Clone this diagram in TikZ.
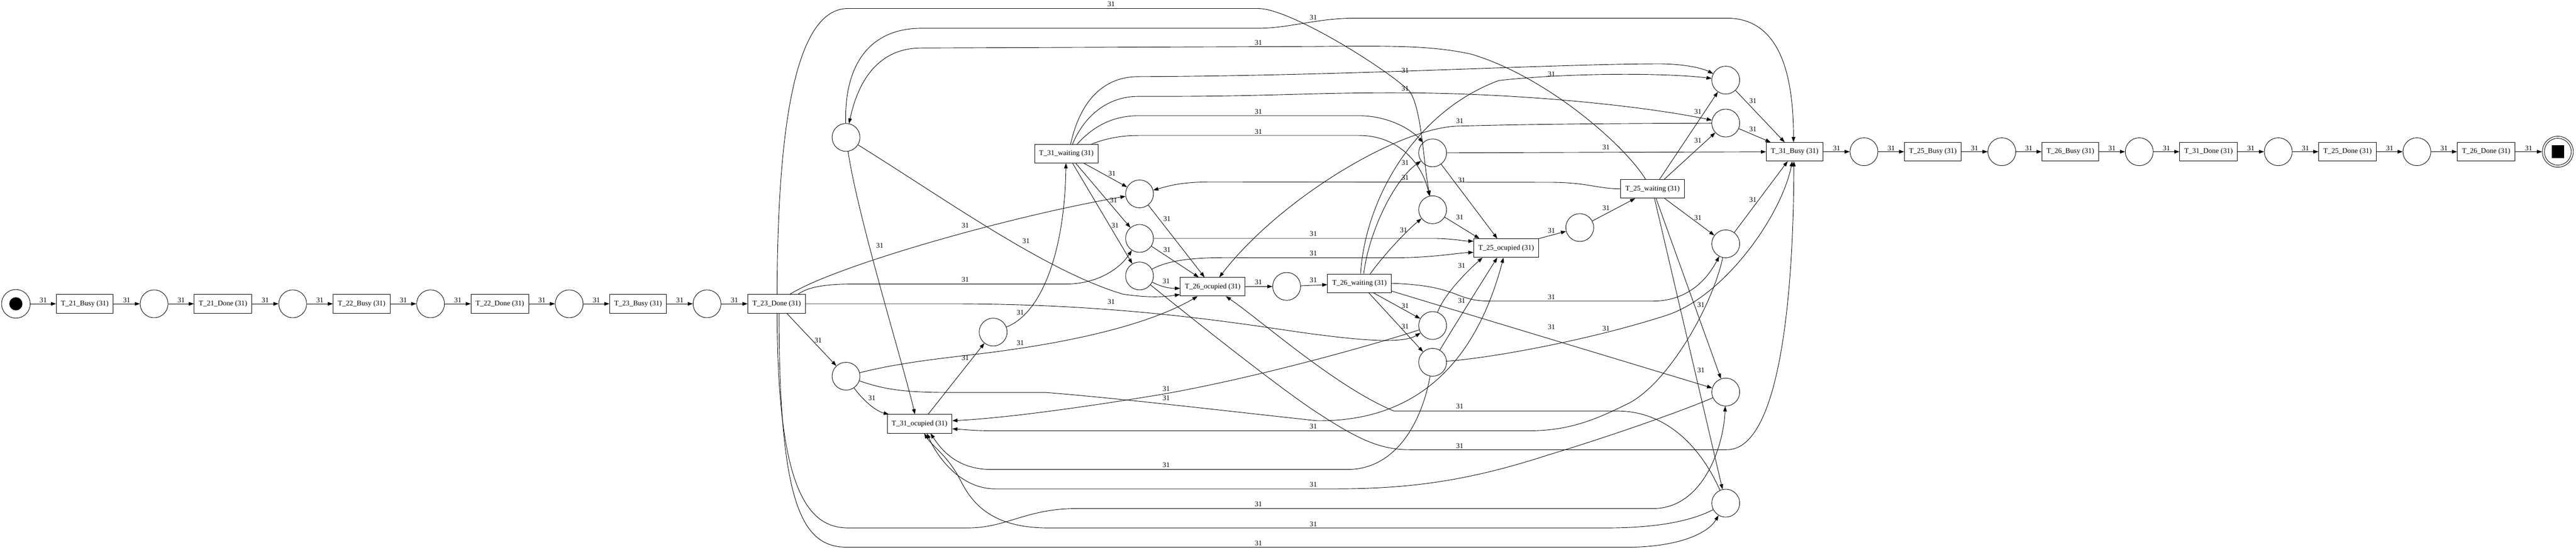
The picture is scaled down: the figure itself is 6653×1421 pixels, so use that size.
\documentclass[tikz,border=0pt]{standalone}
\usepackage{fontspec}
\setmainfont{Liberation Serif}
\usetikzlibrary{arrows.meta,calc}
\newcommand{\fsz}{\fontsize{14pt}{16pt}\selectfont}
\begin{document}
\begin{tikzpicture}[x=0.75pt,y=-0.75pt,
  place/.style={circle,draw,line width=0.9pt,minimum size=54pt,inner sep=0pt},
  trans/.style={rectangle,draw,line width=0.9pt,minimum height=36pt,inner xsep=9pt,inner ysep=0pt,font=\fsz},
  lbl/.style={font=\fsz,inner sep=0pt},
  arr/.style={-{Triangle[length=10pt,width=7pt]},line width=0.9pt}]
\useasboundingbox (0,0) rectangle (6653,1421);
\fill[white] (0,0) rectangle (6653,1421);

% ---------- main chain (left) ----------
\node[place,minimum size=55.5pt] (start) at (41,785) {};
\fill (start.center) circle[radius=12.75pt];
\node[trans] (t21b) at (219,785) {T\_21\_Busy (31)};
\node[place] (p1) at (398,785) {};
\node[trans] (t21d) at (576,785) {T\_21\_Done (31)};
\node[place] (p2) at (756,785) {};
\node[trans] (t22b) at (934,785) {T\_22\_Busy (31)};
\node[place] (p3) at (1112,785) {};
\node[trans] (t22d) at (1291,785) {T\_22\_Done (31)};
\node[place] (p4) at (1470,785) {};
\node[trans] (t23b) at (1648,785) {T\_23\_Busy (31)};
\node[place] (p5) at (1826,785) {};
\node[trans] (t23d) at (2006,785) {T\_23\_Done (31)};

% ---------- middle ----------
\node[place] (pA) at (2185,355) {};
\node[place] (pB) at (2185,972) {};
\node[trans] (t31o) at (2375,1095) {T\_31\_ocupied (31)};
\node[place] (pC) at (2565,858) {};
\node[trans] (t31w) at (2754,397) {T\_31\_waiting (31)};
\node[place] (pD) at (2943,501) {};
\node[place] (pE) at (2943,616) {};
\node[place] (pF) at (2943,713) {};
\node[trans] (t26o) at (3132,741) {T\_26\_ocupied (31)};
\node[place] (pG) at (3323,740) {};
\node[trans] (t26w) at (3511,732) {T\_26\_waiting (31)};
\node[place] (pH) at (3700,395) {};
\node[place] (pI) at (3700,542) {};
\node[place] (pJ) at (3700,841) {};
\node[place] (pK) at (3700,936) {};
\node[trans] (t25o) at (3890,641) {T\_25\_ocupied (31)};
\node[place] (pL) at (4080,588) {};
\node[trans] (t25w) at (4268,488) {T\_25\_waiting (31)};
\node[place] (pM) at (4457,207) {};
\node[place] (pN) at (4457,318) {};
\node[place] (pO) at (4457,630) {};
\node[place] (pP) at (4457,1013) {};
\node[place] (pQ) at (4457,1300) {};

% ---------- upper chain (right) ----------
\node[trans] (t31b) at (4635,392) {T\_31\_Busy (31)};
\node[place] (p6) at (4814,392) {};
\node[trans] (t25b) at (4992,392) {T\_25\_Busy (31)};
\node[place] (p7) at (5170,392) {};
\node[trans] (t26b) at (5347,392) {T\_26\_Busy (31)};
\node[place] (p8) at (5525,392) {};
\node[trans] (t31d) at (5704,392) {T\_31\_Done (31)};
\node[place] (p9) at (5884,392) {};
\node[trans] (t25d) at (6063,392) {T\_25\_Done (31)};
\node[place] (p10) at (6242,392) {};
\node[trans] (t26d) at (6421,392) {T\_26\_Done (31)};
\node[circle,draw,line width=0.9pt,minimum size=60pt,inner sep=0pt] (end) at (6606,392) {};
\draw[line width=0.9pt] (end.center) circle[radius=26pt];
\fill ($(end.center)+(-16,-16.5)$) rectangle ($(end.center)+(16,16.5)$);

% ---------- chain edges ----------
\draw[arr] (start) -- node[lbl,above=2pt] (c01) {31} (t21b);
\draw[arr] (t21b) -- node[lbl,above=2pt] (c02) {31} (p1);
\draw[arr] (p1) -- node[lbl,above=2pt] (c03) {31} (t21d);
\draw[arr] (t21d) -- node[lbl,above=2pt] (c04) {31} (p2);
\draw[arr] (p2) -- node[lbl,above=2pt] (c05) {31} (t22b);
\draw[arr] (t22b) -- node[lbl,above=2pt] (c06) {31} (p3);
\draw[arr] (p3) -- node[lbl,above=2pt] (c07) {31} (t22d);
\draw[arr] (t22d) -- node[lbl,above=2pt] (c08) {31} (p4);
\draw[arr] (p4) -- node[lbl,above=2pt] (c09) {31} (t23b);
\draw[arr] (t23b) -- node[lbl,above=2pt] (c10) {31} (p5);
\draw[arr] (p5) -- node[lbl,above=2pt] (c11) {31} (t23d);
\draw[arr] (t31b) -- node[lbl,above=2pt] (c12) {31} (p6);
\draw[arr] (p6) -- node[lbl,above=2pt] (c13) {31} (t25b);
\draw[arr] (t25b) -- node[lbl,above=2pt] (c14) {31} (p7);
\draw[arr] (p7) -- node[lbl,above=2pt] (c15) {31} (t26b);
\draw[arr] (t26b) -- node[lbl,above=2pt] (c16) {31} (p8);
\draw[arr] (p8) -- node[lbl,above=2pt] (c17) {31} (t31d);
\draw[arr] (t31d) -- node[lbl,above=2pt] (c18) {31} (p9);
\draw[arr] (p9) -- node[lbl,above=2pt] (c19) {31} (t25d);
\draw[arr] (t25d) -- node[lbl,above=2pt] (c20) {31} (p10);
\draw[arr] (p10) -- node[lbl,above=2pt] (c21) {31} (t26d);
\draw[arr] (t26d) -- node[lbl,above=2pt] (c22) {31} (end);

% ---------- T_23_Done outputs ----------
\draw[arr] ($(t23d.north)+(1,0)$) .. controls (2008,300) and (2060,22) .. (2190,22) -- (3250,22) .. controls (3330,22) and (3570,170) .. (3640,235) .. controls (3672,280) and (3676,420) .. (pI) node[lbl] (l01) at (2870,11) {31};
\draw[arr] ($(t23d.north)+(34,0)$) .. controls (2150,690) and (2600,560) .. (pD) node[lbl] (l02) at (2493,583) {31};
\draw[arr] ($(t23d.north)+(55,0)$) .. controls (2085,742) and (2130,734) .. (2200,734) -- (2750,734) .. controls (2840,734) and (2895,690) .. (pE) node[lbl] (l03) at (2493,723) {31};
\draw[arr] (t23d.east) -- (2450,785) .. controls (2750,785) and (3000,805) .. (3300,850) .. controls (3500,880) and (3620,890) .. (pJ) node[lbl] (l04) at (2870,780) {31};
\draw[arr] ($(t23d.south)+(26,0)$) -- (pB) node[lbl] (l05) at (2113,879) {31};
\draw[arr] ($(t23d.south)+(1,0)$) .. controls (2008,1250) and (2080,1364) .. (2190,1364) -- (2500,1364) .. controls (2600,1364) and (2650,1314) .. (2780,1314) -- (4269,1314) .. controls (4400,1314) and (4452,1150) .. (pP) node[lbl] (l06) at (3250,1303) {31};
\draw[arr] ($(t23d.south)+(6,0)$) .. controls (2012,1330) and (2080,1414) .. (2190,1414) -- (4200,1414) .. controls (4330,1414) and (4410,1380) .. (pQ) node[lbl] (l07) at (3250,1404) {31};

% ---------- T_31_waiting outputs ----------
\draw[arr] ($(t31w.south)+(45,0)$) -- (pD) node[lbl] (l08) at (2872,448) {31};
\draw[arr] ($(t31w.south)+(24,0)$) -- (pE) node[lbl] (l09) at (2876,517) {31};
\draw[arr] ($(t31w.south)+(16,0)$) -- (pF) node[lbl] (l10) at (2880,583) {31};
\draw[arr] ($(t31w.north)+(11,0)$) .. controls (2790,260) and (2850,198) .. (2940,198) .. controls (3500,196) and (4000,165) .. (4290,165) .. controls (4360,166) and (4400,178) .. (pM) node[lbl] (l11) at (3629,182) {31};
\draw[arr] ($(t31w.north)+(16,0)$) .. controls (2800,300) and (2860,249) .. (2940,249) -- (3000,249) .. controls (3300,249) and (3400,238) .. (3650,240) .. controls (3950,243) and (4250,275) .. (pN) node[lbl] (l12) at (3629,229) {31};
\draw[arr] ($(t31w.north)+(28,0)$) .. controls (2820,330) and (2870,299) .. (2940,299) -- (3510,299) .. controls (3580,299) and (3640,330) .. (pH) node[lbl] (l13) at (3250,288) {31};
\draw[arr] ($(t31w.north)+(65,0)$) .. controls (2850,360) and (2890,350) .. (2940,350) -- (3510,350) .. controls (3610,350) and (3672,420) .. (pI) node[lbl] (l14) at (3250,340) {31};

% ---------- T_26_waiting outputs ----------
\draw[arr] ($(t26w.north)+(11,0)$) .. controls (3535,600) and (3600,465) .. (pH) node[lbl] (l15) at (3629,420) {31};
\draw[arr] ($(t26w.north)+(28,0)$) .. controls (3580,650) and (3640,590) .. (pI) node[lbl] (l16) at (3625,595) {31};
\draw[arr] ($(t26w.north)+(3,0)$) .. controls (3525,520) and (3650,290) .. (3871,208) .. controls (4050,188) and (4300,188) .. (pM) node[lbl] (l17) at (4007,192) {31};
\draw[arr] ($(t26w.south)+(36,0)$) -- (pJ) node[lbl] (l18) at (3629,790) {31};
\draw[arr] ($(t26w.south)+(24,0)$) -- (pK) node[lbl] (l19) at (3629,843) {31};
\draw[arr] (t26w.east) .. controls (3680,735) and (3720,745) .. (3760,760) .. controls (3790,772) and (3810,778) .. (3850,778) -- (4269,778) .. controls (4360,778) and (4410,720) .. (pO) node[lbl] (l20) at (4007,767) {31};
\draw[arr] ($(t26w.east)+(0,20)$) -- (pP) node[lbl] (l21) at (4007,845) {31};

% ---------- T_25_waiting outputs ----------
\draw[arr] ($(t25w.north)+(18,0)$) -- (pM) node[lbl] (l22) at (4385,288) {31};
\draw[arr] ($(t25w.north)+(30,0)$) -- (pN) node[lbl] (l23) at (4385,363) {31};
\draw[arr] ($(t25w.south)+(31,0)$) -- (pO) node[lbl] (l24) at (4385,563) {31};
\draw[arr] ($(t25w.south)+(9,0)$) -- (pP) node[lbl] (l25) at (4393,787) {31};
\draw[arr] ($(t25w.south)+(5,0)$) -- (pQ) node[lbl] (l26) at (4393,956) {31};
\draw[arr] ($(t25w.north)+(-18,0)$) .. controls (4200,380) and (4000,200) .. (3800,140) .. controls (3700,118) and (3600,118) .. (3400,120) -- (2380,124) .. controls (2255,124) and (2212,230) .. (pA) node[lbl] (l27) at (3250,110) {31};
\draw[arr] (t25w.west) .. controls (4120,487) and (4100,471) .. (4000,471) -- (3130,470) .. controls (3050,470) and (3020,480) .. (pD) node[lbl] (l28) at (3629,459) {31};

% ---------- place A and B outputs ----------
\draw[arr] (pA) .. controls (2215,560) and (2335,950) .. ($(t31o.north)+(-12,0)$) node[lbl] (l29) at (2272,634) {31};
\draw[arr] (pA) .. controls (2450,520) and (2700,700) .. (2900,760) .. controls (2980,772) and (3020,765) .. ($(t26o.west)+(0,20)$) node[lbl] (l30) at (2650,622) {31};
\draw[arr] (pA) .. controls (2180,150) and (2260,73) .. (2380,73) -- (3250,73) .. controls (3330,73) and (3400,47) .. (3500,47) -- (4460,47) .. controls (4600,47) and (4632,200) .. ($(t31b.north)+(-3,0)$) node[lbl] (l31) at (3392,45) {31};
\draw[arr] (pB) .. controls (2225,1030) and (2260,1062) .. ($(t31o.north west)+(5,0)$) node[lbl] (l32) at (2252,1028) {31};
\draw[arr] (pB) .. controls (2350,930) and (2500,920) .. (2600,905) .. controls (2850,870) and (3000,820) .. ($(t26o.south)+(-39,0)$) node[lbl] (l33) at (2635,886) {31};
\draw[arr] (pB) .. controls (2280,1005) and (2330,1014) .. (2450,1014) -- (2700,1014) .. controls (2900,1030) and (3150,1060) .. (3400,1087) .. controls (3620,1090) and (3800,980) .. ($(t25o.south)+(-7,0)$) node[lbl] (l34) at (3012,1029) {31};

% ---------- into T_31_ocupied ----------
\draw[arr] (pJ) .. controls (3550,890) and (3250,975) .. (3000,1019) .. controls (2800,1052) and (2600,1080) .. ($(t31o.east)+(0,-8)$) node[lbl] (l35) at (3012,1004) {31};
\draw[arr] (pO) .. controls (4420,800) and (4300,1000) .. (4200,1045) .. controls (4120,1085) and (4050,1113) .. (3950,1113) -- (2560,1113) .. controls (2520,1113) and (2490,1110) .. ($(t31o.east)+(0,13)$) node[lbl] (l36) at (3392,1102) {31};
\draw[arr] (pK) .. controls (3670,1100) and (3600,1213) .. (3480,1213) -- (2560,1213) .. controls (2470,1213) and (2430,1160) .. ($(t31o.south)+(28,0)$) node[lbl] (l37) at (3012,1202) {31};
\draw[arr] (pP) .. controls (4350,1060) and (4150,1130) .. (4000,1175) .. controls (3800,1240) and (3650,1263) .. (3450,1263) -- (2570,1263) .. controls (2480,1263) and (2420,1180) .. ($(t31o.south)+(19,0)$) node[lbl] (l38) at (3392,1252) {31};
\draw[arr] (pQ) .. controls (4380,1340) and (4300,1364) .. (4150,1364) -- (2700,1364) .. controls (2560,1362) and (2510,1300) .. (2480,1240) .. controls (2450,1180) and (2405,1150) .. ($(t31o.south)+(12,0)$) node[lbl] (l39) at (3392,1354) {31};

% ---------- into T_26_ocupied ----------
\draw[arr] (pD) -- ($(t26o.north)+(-21,0)$) node[lbl] (l40) at (3014,566) {31};
\draw[arr] (pE) -- ($(t26o.north)+(-36,0)$) node[lbl] (l41) at (3014,645) {31};
\draw[arr] (pF) .. controls (2990,736) and (3010,745) .. ($(t26o.west)+(0,4)$) node[lbl] (l42) at (3012,726) {31};
\draw[arr] (pN) .. controls (4300,319) and (4000,319) .. (3760,326) .. controls (3600,335) and (3300,520) .. ($(t26o.north)+(17,0)$) node[lbl] (l43) at (3770,312) {31};
\draw[arr] (pQ) .. controls (4390,1150) and (4300,1062) .. (4177,1062) -- (3600,1062) .. controls (3450,1000) and (3260,830) .. ($(t26o.south)+(34,0)$) node[lbl] (l44) at (3770,1050) {31};

% ---------- into T_25_ocupied ----------
\draw[arr] (pH) -- ($(t25o.north)+(-23,0)$) node[lbl] (l45) at (3775,465) {31};
\draw[arr] (pI) -- ($(t25o.north)+(-69,0)$) node[lbl] (l46) at (3770,562) {31};
\draw[arr] (pE) -- (3700,616) .. controls (3750,616) and (3780,623) .. ($(t25o.west)+(0,-18)$) node[lbl] (l47) at (3392,604) {31};
\draw[arr] (pF) .. controls (3040,660) and (3150,666) .. (3250,666) -- (3600,666) .. controls (3700,666) and (3760,654) .. ($(t25o.west)+(0,11)$) node[lbl] (l48) at (3392,655) {31};
\draw[arr] (pJ) .. controls (3730,760) and (3790,700) .. ($(t25o.south)+(-61,0)$) node[lbl] (l49) at (3775,687) {31};
\draw[arr] (pK) .. controls (3745,860) and (3820,740) .. ($(t25o.south)+(-23,0)$) node[lbl] (l50) at (3775,777) {31};

% ---------- into T_31_Busy ----------
\draw[arr] (pM) -- ($(t31b.north)+(-26,0)$) node[lbl] (l51) at (4527,261) {31};
\draw[arr] (pN) -- ($(t31b.north west)+(12,0)$) node[lbl] (l52) at (4527,334) {31};
\draw[arr] (pH) -- (t31b) node[lbl] (l53) at (4148,381) {31};
\draw[arr] (pO) -- ($(t31b.south)+(-18,0)$) node[lbl] (l54) at (4527,516) {31};
\draw[arr] (pK) .. controls (3850,925) and (4100,880) .. (4300,816) .. controls (4450,770) and (4600,560) .. ($(t31b.south)+(-6,0)$) node[lbl] (l55) at (4148,849) {31};
\draw[arr] (pF) .. controls (3050,800) and (3300,1000) .. (3400,1065) .. controls (3500,1130) and (3560,1162) .. (3640,1162) -- (4460,1162) .. controls (4590,1162) and (4632,800) .. ($(t31b.south)+(-2,0)$) node[lbl] (l56) at (3770,1152) {31};

% ---------- spine ----------
\draw[arr] ($(t31o.north)+(22,0)$) -- (pC) node[lbl] (l57) at (2493,924) {31};
\draw[arr] (pC) .. controls (2690,810) and (2750,650) .. ($(t31w.south)+(-1,0)$) node[lbl] (l58) at (2635,808) {31};
\draw[arr] (t26o) -- (pG) node[lbl] (l59) at (3250,729) {31};
\draw[arr] (pG) -- (t26w) node[lbl] (l60) at (3392,724) {31};
\draw[arr] (t25o.north east) -- (pL) node[lbl] (l61) at (4007,596) {31};
\draw[arr] (pL) -- ($(t25w.south west)+(38,0)$) node[lbl] (l62) at (4148,537) {31};
\end{tikzpicture}
\end{document}
